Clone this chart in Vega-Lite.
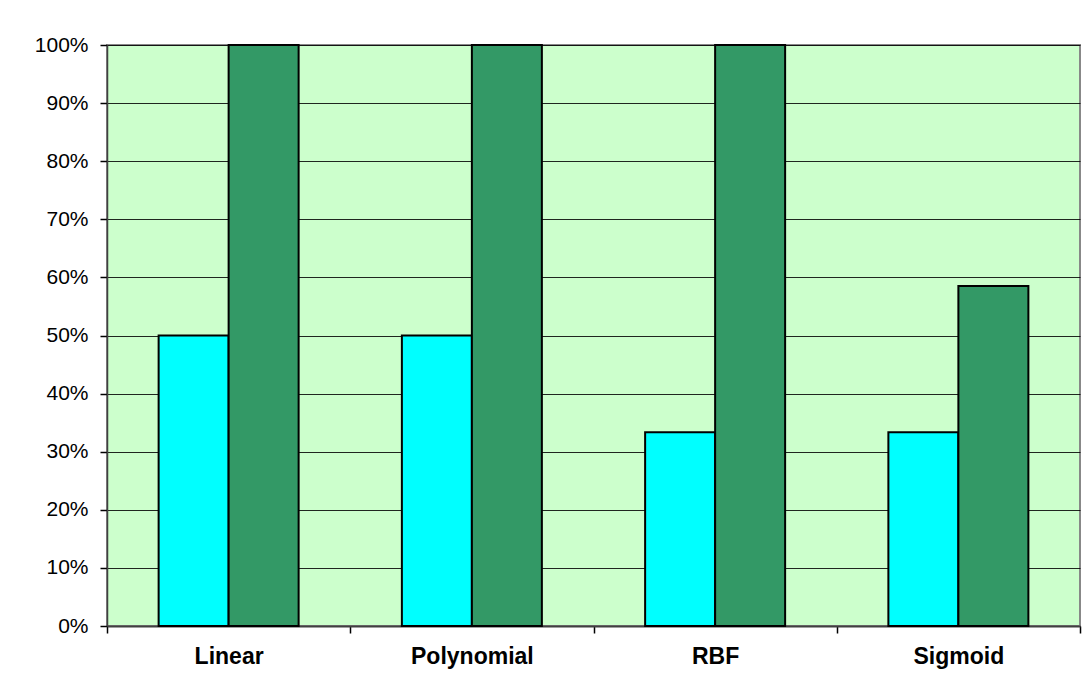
{
  "$schema": "https://vega.github.io/schema/vega-lite/v6.json",
  "autosize": "none",
  "width": 973,
  "height": 581,
  "padding": {"left": 107, "top": 45, "right": 6, "bottom": 64},
  "background": "#ffffff",
  "data": {
    "values": [
      {"kernel": "Linear", "series": "Series1", "value": 0.5},
      {"kernel": "Linear", "series": "Series2", "value": 1.0},
      {"kernel": "Polynomial", "series": "Series1", "value": 0.5},
      {"kernel": "Polynomial", "series": "Series2", "value": 1.0},
      {"kernel": "RBF", "series": "Series1", "value": 0.3333},
      {"kernel": "RBF", "series": "Series2", "value": 1.0},
      {"kernel": "Sigmoid", "series": "Series1", "value": 0.3333},
      {"kernel": "Sigmoid", "series": "Series2", "value": 0.585}
    ]
  },
  "mark": {"type": "bar", "stroke": "#000000", "strokeWidth": 2},
  "encoding": {
    "x": {
      "field": "kernel",
      "type": "nominal",
      "sort": ["Linear", "Polynomial", "RBF", "Sigmoid"],
      "scale": {"paddingInner": 0, "paddingOuter": 0},
      "axis": {
        "title": null,
        "labelAngle": 0,
        "tickBand": "extent",
        "tickSize": 7,
        "tickColor": "#000000",
        "tickWidth": 1.5,
        "domainColor": "#404040",
        "domainWidth": 2,
        "labelFont": "Liberation Sans",
        "labelFontSize": 23,
        "labelFontWeight": "bold",
        "labelColor": "#000000",
        "labelPadding": 12,
        "grid": false
      }
    },
    "xOffset": {
      "field": "series",
      "type": "nominal",
      "scale": {"paddingInner": 0, "paddingOuter": 0.7375}
    },
    "y": {
      "field": "value",
      "type": "quantitative",
      "scale": {"domain": [0, 1], "nice": false},
      "axis": {
        "title": null,
        "values": [0, 0.1, 0.2, 0.3, 0.4, 0.5, 0.6, 0.7, 0.8, 0.9, 1.0],
        "format": ".0%",
        "grid": true,
        "gridColor": "#000000",
        "gridWidth": 1,
        "gridOpacity": 0.85,
        "tickSize": 7,
        "tickColor": "#000000",
        "tickWidth": 1.5,
        "domainColor": "#404040",
        "domainWidth": 1.5,
        "labelFont": "Liberation Sans",
        "labelFontSize": 21,
        "labelColor": "#000000",
        "labelPadding": 12
      }
    },
    "color": {
      "field": "series",
      "type": "nominal",
      "scale": {"domain": ["Series1", "Series2"], "range": ["#00FFFF", "#339966"]},
      "legend": null
    }
  },
  "config": {
    "view": {"fill": "#CCFFCC", "stroke": "#888888", "strokeWidth": 2}
  }
}
